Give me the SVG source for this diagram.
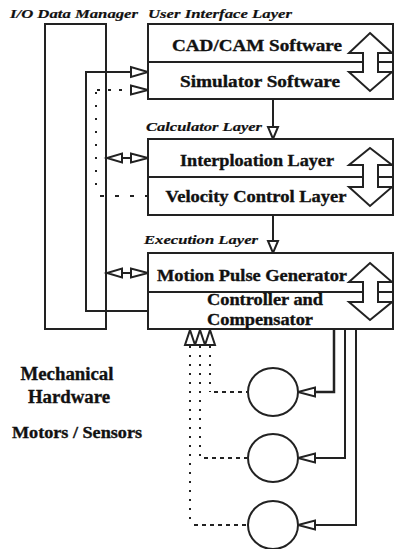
<svg xmlns="http://www.w3.org/2000/svg" width="394" height="549" viewBox="0 0 394 549">
<style>
.box{fill:#fff;stroke:#222;stroke-width:2}
.ln{fill:none;stroke:#222;stroke-width:2}
.dot{fill:none;stroke:#222;stroke-width:2;stroke-dasharray:2 7}
.dsh{fill:none;stroke:#222;stroke-width:2;stroke-dasharray:4 4}
.ah{fill:#fff;stroke:#222;stroke-width:2;stroke-linejoin:miter}
.t{font-family:"Liberation Serif","Times New Roman",serif;font-weight:bold;font-size:17px;fill:#111;stroke:#111;stroke-width:0.35;text-anchor:middle}
.h{font-size:18px}
.it{font-family:"Liberation Serif","Times New Roman",serif;font-weight:bold;font-style:italic;font-size:13px;fill:#111;stroke:#111;stroke-width:0.2}
</style>
<rect width="394" height="549" fill="#fff"/>

<g id="io-manager">
  <rect class="box" x="45" y="24" width="61" height="305" style="fill:none"/>
  <text class="it" x="10" y="18" textLength="128" lengthAdjust="spacingAndGlyphs">I/O Data Manager</text>
</g>

<g id="connectors">
  <path class="ln" d="M273,99 V128"/>
  <polygon class="ah" points="268,127 278,127 273,139"/>
  <path class="ln" d="M273,215 V242"/>
  <polygon class="ah" points="268,241 278,241 273,253"/>
  <polyline class="ln" points="131,72 86,72 86,311 148,311"/>
  <polygon class="ah" points="131,67 131,77 148,72"/>
  <path class="ln" d="M97,90 H131" style="stroke-dasharray:3 8"/>
  <polygon class="ah" points="131,85.5 131,94.5 148,90"/>
  <path class="ln" d="M96,92 V190" style="stroke-dasharray:2 11"/>
  <path class="ln" d="M100,196 H148" style="stroke-dasharray:4 11"/>
  <path class="ln" d="M122,158 H131"/>
  <polygon class="ah" points="122,153.5 122,162.5 107,158"/>
  <polygon class="ah" points="131,153.5 131,162.5 148,158"/>
  <path class="ln" d="M122,273 H131"/>
  <polygon class="ah" points="122,268.5 122,277.5 107,273"/>
  <polygon class="ah" points="131,268.5 131,277.5 148,273"/>
  <path class="dot" d="M190,346 V525"/>
  <path class="dot" d="M200,346 V458"/>
  <path class="dot" d="M210,346 V392"/>
  <path class="dsh" d="M214,392 H247"/>
  <path class="dsh" d="M204,458 H247"/>
  <path class="dsh" d="M194,525 H247"/>
  <polygon class="ah" points="185,345 195,345 190,330"/>
  <polygon class="ah" points="195,345 205,345 200,330"/>
  <polygon class="ah" points="205,345 215,345 210,330"/>
  <polyline class="ln" points="334,329 334,392 315,392" style="stroke-width:2.5"/>
  <polygon class="ah" points="315,387.5 315,396.5 298,392"/>
  <polyline class="ln" points="345,329 345,458 315,458"/>
  <polygon class="ah" points="315,453.5 315,462.5 298,458"/>
  <polyline class="ln" points="356,329 356,525 315,525"/>
  <polygon class="ah" points="315,520.5 315,529.5 298,525"/>
</g>

<g id="user-interface-layer">
  <text class="it" x="148" y="18" textLength="144" lengthAdjust="spacingAndGlyphs">User Interface Layer</text>
  <rect class="box" x="148" y="24" width="245" height="75"/>
  <path class="ln" d="M148,62 H393"/>
  <polygon class="ah" points="370,33 392,53 378,53 378,72 392,72 370,91 349,72 363,72 363,53 349,53"/>
  <text class="t" x="257" y="51" textLength="170" lengthAdjust="spacingAndGlyphs">CAD/CAM Software</text>
  <text class="t" x="260" y="87" textLength="160" lengthAdjust="spacingAndGlyphs">Simulator Software</text>
</g>

<g id="calculator-layer">
  <text class="it" x="146" y="131" textLength="116" lengthAdjust="spacingAndGlyphs">Calculator Layer</text>
  <rect class="box" x="148" y="139" width="245" height="76"/>
  <path class="ln" d="M148,177 H393"/>
  <polygon class="ah" points="370,148 392,165 378,165 378,187 392,187 370,206 349,187 363,187 363,165 349,165"/>
  <text class="t" x="257" y="166" textLength="154" lengthAdjust="spacingAndGlyphs">Interploation Layer</text>
  <text class="t" x="256" y="202" textLength="181" lengthAdjust="spacingAndGlyphs">Velocity Control Layer</text>
</g>

<g id="execution-layer">
  <text class="it" x="144" y="244" textLength="114" lengthAdjust="spacingAndGlyphs">Execution Layer</text>
  <rect class="box" x="148" y="253" width="245" height="76"/>
  <path class="ln" d="M148,292 H393"/>
  <polygon class="ah" points="370,263 392,282 378,282 378,302 392,302 370,320 349,302 363,302 363,282 349,282"/>
  <text class="t" x="252" y="281" textLength="190" lengthAdjust="spacingAndGlyphs">Motion Pulse Generator</text>
  <text class="t" x="265" y="305" textLength="116" lengthAdjust="spacingAndGlyphs">Controller and</text>
  <text class="t" x="260" y="325" textLength="106" lengthAdjust="spacingAndGlyphs">Compensator</text>
</g>

<g id="motor-1"><ellipse class="box" cx="273" cy="392" rx="25" ry="24"/></g>
<g id="motor-2"><ellipse class="box" cx="273" cy="458" rx="25" ry="24"/></g>
<g id="motor-3"><ellipse class="box" cx="273" cy="525" rx="25" ry="24"/></g>

<g id="hardware-labels">
  <text class="t h" x="67" y="380" textLength="93" lengthAdjust="spacingAndGlyphs">Mechanical</text>
  <text class="t h" x="69" y="403" textLength="82" lengthAdjust="spacingAndGlyphs">Hardware</text>
  <text class="t" x="77" y="438" textLength="130" lengthAdjust="spacingAndGlyphs">Motors / Sensors</text>
</g>
</svg>
